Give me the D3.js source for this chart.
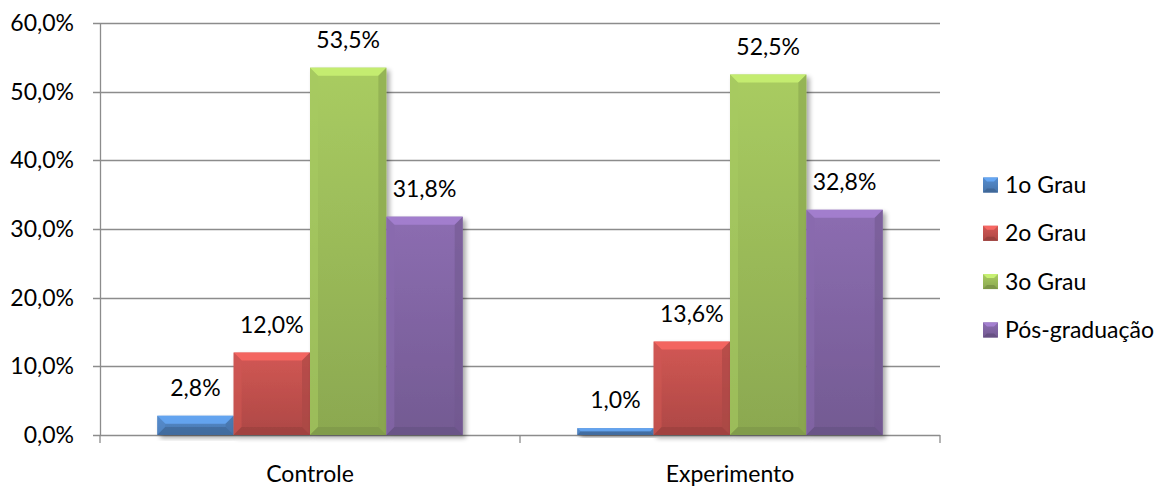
<!DOCTYPE html>
<html><head><meta charset="utf-8">
<script src="https://cdn.jsdelivr.net/npm/d3@7"></script>
<style>body{margin:0;background:#fff}svg{display:block;font-family:Lato,"Noto Sans",sans-serif}</style>
</head><body><svg id="c" width="1176" height="491"></svg>
<script>
const categories = ["Controle", "Experimento"];
const seriesNames = ["1o Grau", "2o Grau", "3o Grau", "Pós-graduação"];
const s1 = [2.8, 1.0];
const s2 = [12.0, 13.6];
const s3 = [53.5, 52.5];
const s4 = [31.8, 32.8];
const yTicks = [0, 10, 20, 30, 40, 50, 60];
const colors = ["#4F81BD", "#C0504D", "#9BBB59", "#8064A2"];
const series = [s1, s2, s3, s4];
const FS = 23;

const svg = d3.select("#c");
const m = {l: 100, r: 236, t: 23, b: 56};
const W = 1176, H = 491;
const x0 = d3.scaleBand().domain(categories).range([m.l, W - m.r]).paddingInner(0).paddingOuter(0);
const y = d3.scaleLinear().domain([0, 60]).range([H - m.b, m.t]);
// gap width 150%: 4 bars + 1.5 bar widths
const bw = x0.bandwidth() / 5.5;
const x1 = d3.scaleBand().domain(seriesNames).range([0, bw * 4]);

const fmt = v => d3.format(".1f")(v).replace(".", ",") + "%";
const defs = svg.append("defs");
const f = defs.append("filter").attr("id", "sh").attr("x", "-20%").attr("y", "-20%").attr("width", "150%").attr("height", "150%");
f.append("feGaussianBlur").attr("in", "SourceAlpha").attr("stdDeviation", 2.5);
f.append("feOffset").attr("dx", 3).attr("dy", 3).attr("result", "b");
f.append("feComponentTransfer").append("feFuncA").attr("type", "linear").attr("slope", 0.35);
const mg = f.append("feMerge"); mg.append("feMergeNode"); mg.append("feMergeNode").attr("in", "SourceGraphic");

colors.forEach((c, i) => {
  const g = defs.append("linearGradient").attr("id", "g" + i).attr("x1", 0).attr("y1", 0).attr("x2", 0).attr("y2", 1);
  g.append("stop").attr("offset", 0).attr("stop-color", d3.color(c).brighter(0.25));
  g.append("stop").attr("offset", 1).attr("stop-color", d3.color(c).darker(0.3));
});

// gridlines
svg.append("g").selectAll("line").data(yTicks).join("line")
  .attr("x1", m.l - 7).attr("x2", W - m.r).attr("y1", d => Math.round(y(d)) + 0.5).attr("y2", d => Math.round(y(d)) + 0.5)
  .attr("stroke", "#8c8c8c").attr("stroke-width", 1.3);

// axes
const ya = svg.append("g").attr("transform", `translate(${m.l},0)`)
  .call(d3.axisLeft(y).tickValues(yTicks).tickSize(0).tickPadding(26).tickFormat(d => d3.format(".1f")(d).replace(".", ",") + "%"));
ya.select(".domain").attr("stroke", "#8c8c8c").attr("stroke-width", 1.3);
ya.selectAll("text").attr("font-size", FS).attr("fill", "#000").attr("font-family", "Lato");

const xa = svg.append("g").attr("transform", `translate(0,${Math.round(y(0)) + 0.5})`)
  .call(d3.axisBottom(x0).tickSize(0).tickPadding(30));
xa.select(".domain").remove();
xa.selectAll("text").attr("font-size", FS).attr("fill", "#000").attr("font-family", "Lato");
const xt = [m.l, m.l + x0.bandwidth(), W - m.r];
svg.append("g").selectAll("line").data(xt).join("line")
  .attr("x1", d => d).attr("x2", d => d).attr("y1", y(0)).attr("y2", y(0) + 8)
  .attr("stroke", "#8c8c8c").attr("stroke-width", 1.3);

function bevelBar(g, x, yt, w, h, ci) {
  const c = d3.color(colors[ci]);
  const bg = g.append("g").attr("filter", "url(#sh)");
  bg.append("rect").attr("x", x).attr("y", yt).attr("width", w).attr("height", h).attr("fill", `url(#g${ci})`);
  const b = Math.min(8, h / 2, w / 2);
  const pts = (a) => a.map(p => p.join(",")).join(" ");
  bg.append("polygon").attr("points", pts([[x, yt], [x + w, yt], [x + w - b, yt + b], [x + b, yt + b]])).attr("fill", c.brighter(0.7)).attr("opacity", 0.9);
  bg.append("polygon").attr("points", pts([[x, yt], [x + b, yt + b], [x + b, yt + h - b], [x, yt + h]])).attr("fill", c.brighter(0.2)).attr("opacity", 0.6);
  bg.append("polygon").attr("points", pts([[x + w, yt], [x + w, yt + h], [x + w - b, yt + h - b], [x + w - b, yt + b]])).attr("fill", c.darker(0.35)).attr("opacity", 0.6);
  bg.append("polygon").attr("points", pts([[x, yt + h], [x + b, yt + h - b], [x + w - b, yt + h - b], [x + w, yt + h]])).attr("fill", c.darker(0.6)).attr("opacity", 0.7);
}

const bars = svg.append("g");
categories.forEach((cat, ci) => {
  const gx = x0(cat) + (x0.bandwidth() - bw * 4) / 2;
  series.forEach((s, si) => {
    const v = s[ci];
    const bx = gx + x1(seriesNames[si]);
    bevelBar(bars, bx, y(v), x1.bandwidth(), y(0) - y(v), si);
  });
});
const labels = svg.append("g");
categories.forEach((cat, ci) => {
  const gx = x0(cat) + (x0.bandwidth() - bw * 4) / 2;
  series.forEach((s, si) => {
    const v = s[ci];
    labels.append("text").attr("x", gx + x1(seriesNames[si]) + x1.bandwidth() / 2).attr("y", y(v) - 20)
      .attr("text-anchor", "middle").attr("font-size", FS).attr("fill", "#000").text(fmt(v));
  });
});

// legend
const lg = svg.append("g").attr("transform", "translate(983,0)");
seriesNames.forEach((n, i) => {
  const cy = 185 + i * 48.3;
  const c = d3.color(colors[i]);
  const sz = 15, b = 4, xx = 0, yy = cy - sz / 2;
  lg.append("rect").attr("x", xx).attr("y", yy).attr("width", sz).attr("height", sz).attr("fill", `url(#g${i})`);
  lg.append("polygon").attr("points", `${xx},${yy} ${xx+sz},${yy} ${xx+sz-b},${yy+b} ${xx+b},${yy+b}`).attr("fill", c.brighter(0.7));
  lg.append("polygon").attr("points", `${xx},${yy+sz} ${xx+b},${yy+sz-b} ${xx+sz-b},${yy+sz-b} ${xx+sz},${yy+sz}`).attr("fill", c.darker(0.6));
  lg.append("text").attr("x", 22).attr("y", cy).attr("dy", "0.35em").attr("font-size", FS).attr("fill", "#000").text(n);
});
</script></body></html>
